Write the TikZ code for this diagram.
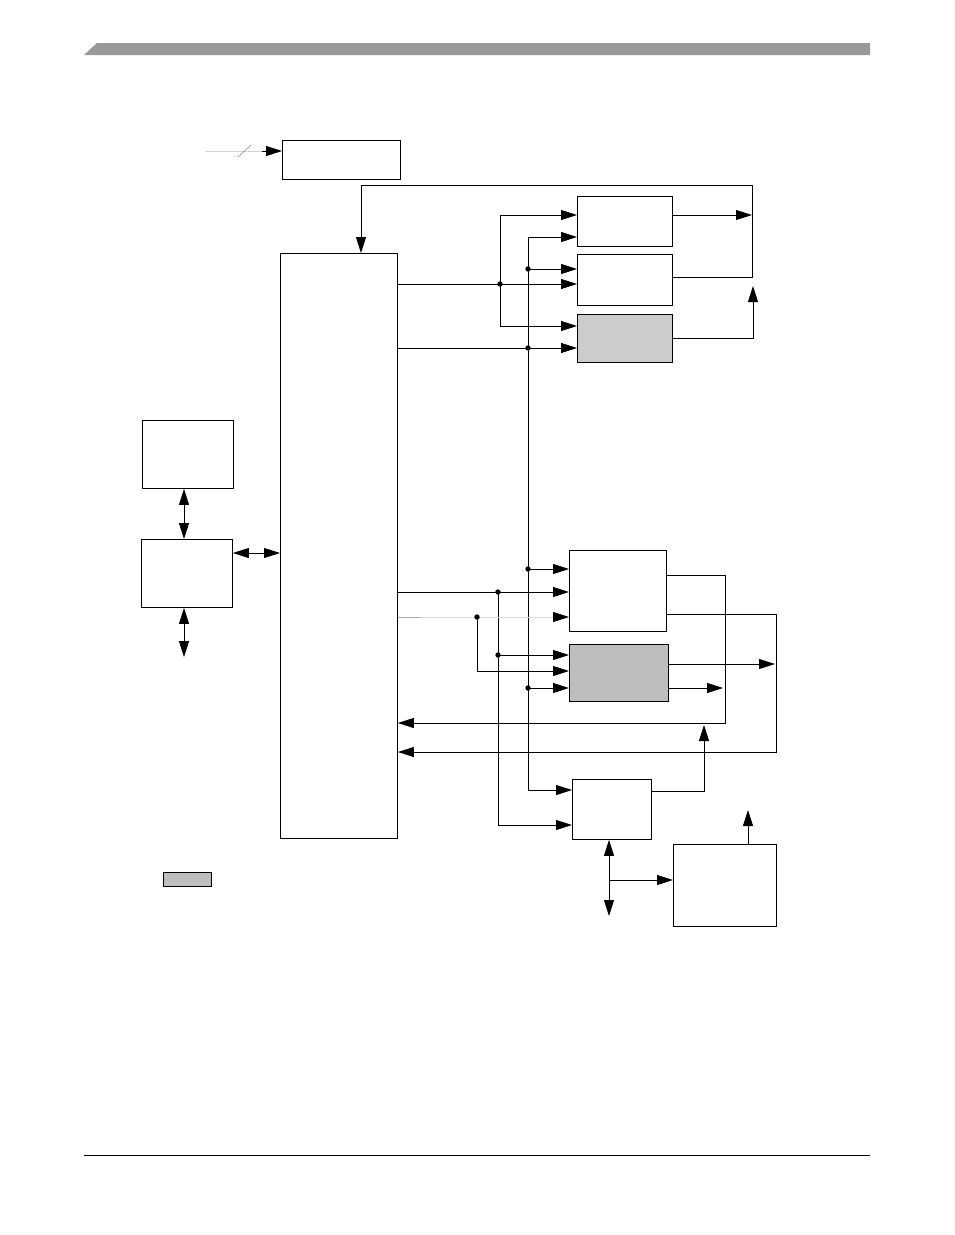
\documentclass[tikz,border=0pt]{standalone}
\usetikzlibrary{arrows.meta,calc}
\definecolor{hdr}{gray}{0.6}
\definecolor{gD}{gray}{0.8}
\definecolor{gF}{gray}{0.745}
\begin{document}
\begin{tikzpicture}[x=1pt,y=-1pt,
 box/.style={draw,line width=0.9pt,anchor=north west,inner sep=0pt},
 conn/.style={line width=0.8pt},
 arr/.style={conn,-{Triangle[length=16pt,width=10pt,color=black]}},
 darr/.style={conn,{Triangle[length=16pt,width=10pt]}-{Triangle[length=16pt,width=10pt]}},
 jdot/.style={fill=black}]
\useasboundingbox (0,0) rectangle (954,1235);
% header and footer
\fill[hdr] (84,55) -- (97,43) -- (870,43) -- (870,55) -- cycle;
\draw[line width=1pt] (84,1155) -- (870,1155);
% boxes
\node[box,minimum width=118pt,minimum height=39pt] (A) at (282,140) {};
\node[box,minimum width=117pt,minimum height=585pt] (main) at (280,253) {};
\node[box,minimum width=95pt,minimum height=50pt] (B) at (577,196) {};
\node[box,minimum width=95pt,minimum height=51pt] (C) at (577,254) {};
\node[box,fill=gD,minimum width=95pt,minimum height=48pt] (D) at (577,314) {};
\node[box,minimum width=97pt,minimum height=81pt] (E) at (569,550) {};
\node[box,fill=gF,minimum width=99pt,minimum height=57pt] (F) at (569,644) {};
\node[box,minimum width=79pt,minimum height=60pt] (G) at (572,779) {};
\node[box,minimum width=103pt,minimum height=82pt] (H) at (673,844) {};
\node[box,minimum width=91pt,minimum height=68pt] (I) at (142,420) {};
\node[box,minimum width=91pt,minimum height=68pt] (J) at (141,539) {};
\node[box,fill=gF,minimum width=48pt,minimum height=14pt] (L) at (163,872) {};
% input to A
\coordinate (ain) at (205,151);
\coordinate (aslash) at (262,151);
\draw[conn,gray!35] (ain) -- (aslash);
\draw[line width=0.5pt,gray] (238,157) -- (251,145);
\draw[arr] (aslash) -- (A.west |- ain);
% feedback from C to main
\coordinate (fb) at (752,185);
\draw[arr] (C.east |- 0,277) -| (fb) -| (main.north -| 361,0);
\draw[arr] (B.east |- 0,215) -- (752,215);
\draw[arr] (D.east |- 0,338) -| (753,286);
% bus x=500
\coordinate (j1) at (500,284);
\draw[arr] (main.east |- j1) -- (C.west |- j1);
\draw[arr] (j1) |- (B.west |- 0,215);
\draw[arr] (j1) |- (D.west |- 0,326);
\fill[jdot] (j1) circle (2.7pt);
% bus x=528
\coordinate (k0) at (528,790);
\coordinate (k1) at (528,269);
\coordinate (k2) at (528,348);
\coordinate (k3) at (528,569);
\coordinate (k4) at (528,688);
\draw[arr] (k0) |- (B.west |- 0,237);
\draw[arr] (k0) -- (G.west |- k0);
\draw[arr] (k1) -- (C.west |- k1);
\draw[arr] (main.east |- k2) -- (D.west |- k2);
\draw[arr] (k3) -- (E.west |- k3);
\draw[arr] (k4) -- (F.west |- k4);
\foreach \p in {k1,k2,k3,k4} \fill[jdot] (\p) circle (2.7pt);
% bus x=498
\coordinate (m1) at (498,592);
\coordinate (m2) at (498,655);
\draw[arr] (main.east |- m1) -- (E.west |- m1);
\draw[arr] (m1) |- (G.west |- 0,825);
\draw[arr] (m2) -- (F.west |- m2);
\fill[jdot] (m1) circle (2.7pt);
\fill[jdot] (m2) circle (2.7pt);
% bus x=477
\coordinate (n1) at (477,617);
\coordinate (n0) at (420,617);
\draw[conn,gray!70] (main.east |- n1) -- (n0);
\draw[arr,gray!30] (n0) -- (E.west |- n1);
\draw[arr] (n1) |- (F.west |- 0,671);
\fill[jdot] (n1) circle (2.7pt);
% E outputs back to main
\draw[arr] (E.east |- 0,575) -| (725,723) -- (main.east |- 0,723);
\draw[arr] (E.east |- 0,614) -| (776,752) -- (main.east |- 0,752);
% F outputs
\draw[arr] (F.east |- 0,664) -- (775,664);
\draw[arr] (F.east |- 0,688) -- (723,688);
% G output
\draw[arr] (G.east |- 0,791) -| (704,725);
% G bottom
\coordinate (gb) at (609,916);
\draw[darr] (G.south -| gb) -- (gb);
\coordinate (gh) at (609,880);
\draw[arr] (gh) -- (H.west |- gh);
% H output
\draw[arr] (H.north -| 748,0) -- (748,810);
% left side
\draw[darr] (I.south -| 184,0) -- (J.north -| 184,0);
\draw[darr] (J.south -| 184,0) -- (184,657);
\draw[darr] (J.east |- 0,553) -- (main.west |- 0,553);
\end{tikzpicture}
\end{document}
